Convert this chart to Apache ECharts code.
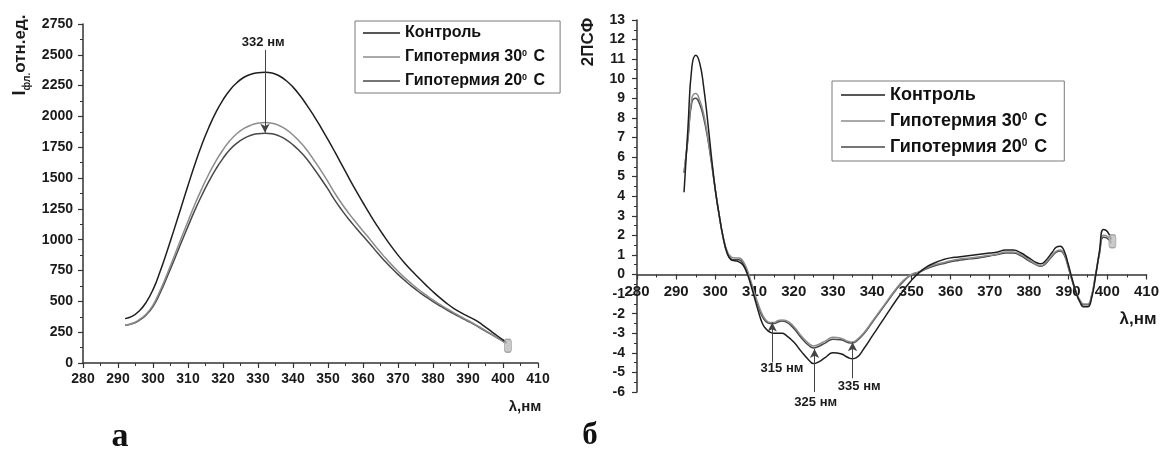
<!DOCTYPE html>
<html>
<head>
<meta charset="utf-8">
<script src="https://cdn.jsdelivr.net/npm/echarts@6/dist/echarts.min.js"></script>
<style>
  html, body { margin: 0; padding: 0; background: #fff; }
  #chart { width: 1162px; height: 450px; }
</style>
</head>
<body>
<div id="chart"></div>
<script>
// Series names shared by both panels
const seriesNames = ['Контроль', 'Гипотермия 30° С', 'Гипотермия 20° С'];

// Panel а: fluorescence intensity spectra (λ, нм)
const wlA = [292, 294, 296, 298, 300, 302, 304, 306, 308, 310, 312, 314, 316, 318, 320,
  322, 324, 326, 328, 330, 332, 334, 336, 338, 340, 342, 344, 346, 348, 350, 352, 354,
  356, 358, 360, 362, 364, 366, 368, 370, 372, 374, 376, 378, 380, 382, 384, 386, 388,
  390, 392, 394, 396, 398, 400, 401];
const controlA = [360, 378, 420, 490, 595, 740, 905, 1080, 1260, 1440, 1615, 1775, 1915,
  2035, 2135, 2215, 2275, 2318, 2343, 2355, 2358, 2352, 2330, 2292, 2238, 2170, 2090,
  2003, 1910, 1812, 1710, 1605, 1500, 1398, 1300, 1205, 1115, 1030, 950, 875, 808, 746,
  688, 632, 578, 528, 482, 442, 408, 378, 350, 312, 270, 228, 188, 170];
const hypo30A = [306, 320, 350, 395, 470, 585, 720, 862, 1008, 1150, 1290, 1418, 1535,
  1640, 1730, 1805, 1862, 1903, 1930, 1945, 1950, 1945, 1927, 1895, 1850, 1793, 1726,
  1645, 1560, 1470, 1375, 1290, 1212, 1140, 1070, 1003, 932, 865, 802, 744, 690, 640,
  594, 552, 512, 475, 440, 406, 375, 345, 314, 280, 246, 212, 177, 160];
const hypo20A = [306, 318, 345, 388, 458, 567, 696, 832, 972, 1108, 1242, 1364, 1475,
  1575, 1660, 1731, 1784, 1822, 1847, 1860, 1864, 1859, 1842, 1812, 1770, 1716, 1653,
  1576, 1495, 1410, 1319, 1238, 1164, 1096, 1030, 966, 898, 834, 774, 719, 668, 620,
  576, 536, 498, 463, 430, 398, 368, 339, 309, 276, 243, 210, 176, 160];
const endMarkA = [[401.4, 140]];

// Panel б: second-derivative spectra (2ПСФ)
const wlB = [292, 293, 294, 295, 296, 297, 298, 299, 300, 301, 302, 303, 304, 305, 306,
  307, 308, 309, 310, 311, 312, 313, 314, 315, 316, 317, 318, 320, 322, 324, 325, 326,
  328, 330, 332, 334, 335, 336, 338, 340, 342, 344, 346, 348, 350, 352, 354, 356, 358,
  360, 362, 364, 366, 368, 370, 372, 374, 376, 378, 380, 382, 383, 384, 386, 387, 388,
  389, 390, 391, 392, 393, 394, 395, 396, 397, 398, 399, 400, 401];
const controlB = [4.2, 7.5, 10.6, 11.2, 10.8, 9.6, 7.9, 6.0, 4.3, 3.0, 1.9, 1.1, 0.75,
  0.7, 0.65, 0.5, 0.1, -0.5, -1.2, -1.9, -2.5, -2.8, -2.95, -3.0, -3.0, -3.0, -3.1,
  -3.45, -3.95, -4.4, -4.55, -4.5, -4.25, -4.0, -4.05, -4.25, -4.3, -4.25, -3.75, -3.15,
  -2.55, -1.95, -1.35, -0.8, -0.3, 0.1, 0.4, 0.6, 0.75, 0.85, 0.9, 0.95, 1.0, 1.05, 1.1,
  1.15, 1.25, 1.25, 1.1, 0.85, 0.6, 0.55, 0.65, 1.15, 1.4, 1.45, 1.2, 0.55, -0.2, -0.9,
  -1.4, -1.65, -1.65, -1.2, -0.1, 1.2, 2.3, 2.2, 1.8];
const hypo30B = [5.2, 7.0, 9.0, 9.25, 8.9, 8.2, 7.1, 5.8, 4.3, 3.0, 1.9, 1.2, 0.9, 0.85,
  0.85, 0.7, 0.3, -0.3, -0.95, -1.55, -2.05, -2.35, -2.45, -2.45, -2.35, -2.32, -2.35,
  -2.65, -3.15, -3.55, -3.65, -3.6, -3.4, -3.2, -3.25, -3.42, -3.45, -3.35, -2.95, -2.4,
  -1.85, -1.3, -0.75, -0.3, 0.0, 0.15, 0.35, 0.5, 0.6, 0.7, 0.78, 0.83, 0.87, 0.92, 0.98,
  1.05, 1.15, 1.15, 1.0, 0.75, 0.5, 0.45, 0.55, 1.0, 1.2, 1.25, 1.05, 0.45, -0.25, -0.85,
  -1.3, -1.5, -1.5, -1.05, 0.0, 1.1, 2.0, 1.95, 1.75];
const hypo20B = [5.2, 6.9, 8.8, 9.0, 8.7, 8.0, 7.0, 5.7, 4.3, 3.0, 1.85, 1.1, 0.8, 0.75,
  0.75, 0.6, 0.2, -0.4, -1.05, -1.65, -2.15, -2.42, -2.5, -2.5, -2.42, -2.38, -2.42,
  -2.75, -3.25, -3.65, -3.75, -3.7, -3.5, -3.3, -3.33, -3.48, -3.5, -3.4, -3.0, -2.45,
  -1.9, -1.35, -0.8, -0.35, -0.02, 0.12, 0.3, 0.45, 0.55, 0.65, 0.72, 0.78, 0.82, 0.88,
  0.95, 1.02, 1.1, 1.1, 0.95, 0.7, 0.48, 0.42, 0.5, 0.95, 1.15, 1.2, 1.0, 0.4, -0.3, -0.9,
  -1.35, -1.55, -1.55, -1.1, -0.05, 1.05, 1.9, 1.85, 1.6];
const endMarkB = [[401.3, 1.7]];

// Axis ranges
const wlMin = 280, wlMax = 410, wlStep = 10;
const intMin = 0, intMax = 2750, intStep = 250;
const derMin = -6, derMax = 13, derStep = 1;

// Arrows [λ, from, to] and their captions [λ, value, text]
const arrowsA = [[332, 2540, 1868]];
const captionsA = [[331.5, 2604, '332 нм']];
const arrowsB = [[314.5, -4.49, -2.45], [325.3, -6, -3.8], [335.0, -5.3, -3.46]];
const captionsB = [[317.0, -4.8, '315 нм'], [325.6, -6.52, '325 нм'], [336.7, -5.72, '335 нм']];

const lineColors = ['#1e1e1e', '#8c8c8c', '#484848'];
const axisColor = '#333';
const textColor = '#1a1a1a';
const fontFamily = '"Liberation Sans", Arial, sans-serif';

const pairs = (xs, ys) => xs.map((x, i) => [x, ys[i]]);
const plain = v => String(v);

function xAxisCfg(grid, fontSize, margin) {
  return {
    type: 'value', gridIndex: grid, min: wlMin, max: wlMax, interval: wlStep,
    axisLine: { onZero: false, lineStyle: { color: axisColor, width: 1.5 } },
    axisTick: { length: 5, lineStyle: { color: axisColor, width: 1.2 } },
    minorTick: { show: true, splitNumber: 2, length: 3, lineStyle: { color: axisColor, width: 1 } },
    splitLine: { show: false },
    axisLabel: { fontSize: fontSize, fontWeight: 'bold', color: textColor, fontFamily: fontFamily, margin: margin, formatter: plain }
  };
}
function yAxisCfg(grid, min, max, step, fontSize, margin) {
  return {
    type: 'value', gridIndex: grid, min: min, max: max, interval: step,
    axisLine: { show: true, onZero: false, lineStyle: { color: axisColor, width: 1.5 } },
    axisTick: { show: true, length: 5, lineStyle: { color: axisColor, width: 1.2 } },
    minorTick: { show: true, splitNumber: 2, length: 3, lineStyle: { color: axisColor, width: 1 } },
    splitLine: { show: false },
    axisLabel: { fontSize: fontSize, fontWeight: 'bold', color: textColor, fontFamily: fontFamily, margin: margin, formatter: plain }
  };
}

function curve(name, idx, grid, xs, ys) {
  return {
    type: 'line', name: name, xAxisIndex: grid, yAxisIndex: grid,
    data: pairs(xs, ys), smooth: true, symbol: 'none',
    lineStyle: { color: lineColors[idx], width: 1.5 },
    itemStyle: { color: lineColors[idx] },
    emphasis: { disabled: true }, z: 3 - idx
  };
}

function endMarker(grid, pts) {
  return {
    type: 'scatter', name: 'end', xAxisIndex: grid, yAxisIndex: grid, data: pts,
    symbol: 'roundRect', symbolSize: [7, 13],
    itemStyle: { color: '#bdbdbd', borderColor: '#999', borderWidth: 1 },
    silent: true, z: 5
  };
}

// Arrows drawn in data coordinates
function arrows(grid, list) {
  return {
    type: 'line', name: 'arrows', xAxisIndex: grid, yAxisIndex: grid, data: [],
    silent: true,
    markLine: {
      silent: true, symbol: ['none', 'arrow'], symbolSize: [7, 9], precision: 3,
      lineStyle: { type: 'solid', color: '#444', width: 1 },
      itemStyle: { color: '#111' },
      label: { show: false },
      data: list.map(a => [{ coord: [a[0], a[1]] }, { coord: [a[0], a[2]] }])
    }
  };
}

function legendText(name) {
  return name.replace(/(\d+)° С/, '$1{s|0} С');
}
function legendCfg(left, top, itemWidth, fontSize, gap, padding) {
  return {
    data: seriesNames, orient: 'vertical', left: left, top: top,
    itemWidth: itemWidth, itemHeight: 14, itemGap: gap, padding: padding,
    borderColor: '#7a7a7a', borderWidth: 1, backgroundColor: '#fff',
    selectedMode: false, icon: 'path://M0,6 L40,6 L40,7.5 L0,7.5 Z',
    formatter: legendText,
    textStyle: {
      fontSize: fontSize, fontWeight: 'bold', color: '#111', fontFamily: fontFamily,
      rich: { s: { fontSize: Math.round(fontSize * 0.55), fontWeight: 'bold', color: '#111', fontFamily: fontFamily, verticalAlign: 'top', padding: [0, 2, 0, 0] } }
    }
  };
}

const option = {
  animation: false,
  backgroundColor: '#fff',
  grid: [
    { left: 83, top: 24, width: 455, height: 339 },
    { left: 637, top: 20, width: 511, height: 372 }
  ],
  xAxis: [xAxisCfg(0, 14, 9), xAxisCfg(1, 15, 10)],
  yAxis: [yAxisCfg(0, intMin, intMax, intStep, 14, 10), yAxisCfg(1, derMin, derMax, derStep, 14, 12)],
  legend: [
    legendCfg(355, 21, 37, 16, 8, [4, 15, 4, 8]),
    legendCfg(832, 81, 44, 18, 8, [5, 17, 5, 9])
  ],
  series: [
    curve(seriesNames[0], 0, 0, wlA, controlA),
    curve(seriesNames[1], 1, 0, wlA, hypo30A),
    curve(seriesNames[2], 2, 0, wlA, hypo20A),
    endMarker(0, endMarkA),
    arrows(0, arrowsA),
    curve(seriesNames[0], 0, 1, wlB, controlB),
    curve(seriesNames[1], 1, 1, wlB, hypo30B),
    curve(seriesNames[2], 2, 1, wlB, hypo20B),
    endMarker(1, endMarkB),
    arrows(1, arrowsB)
  ],
  graphic: [
    {
      id: 'ytitleA', type: 'text', x: 20, y: 55, rotation: Math.PI / 2,
      style: {
        text: '{a|I}{b|фл.}{c|отн.ед.}', align: 'center', verticalAlign: 'middle',
        rich: {
          a: { fontSize: 18, fontWeight: 'bold', fontFamily: fontFamily, fill: textColor, lineHeight: 24 },
          b: { fontSize: 10, fontWeight: 'bold', fontFamily: fontFamily, fill: textColor, verticalAlign: 'bottom', lineHeight: 24 },
          c: { fontSize: 17, fontWeight: 'bold', fontFamily: fontFamily, fill: textColor, lineHeight: 24 }
        }
      }
    },
    {
      id: 'ytitleB', type: 'text', x: 588, y: 42, rotation: Math.PI / 2,
      style: { text: '2ПСФ', align: 'center', verticalAlign: 'middle', fontSize: 17, fontWeight: 'bold', fontFamily: fontFamily, fill: textColor }
    },
    {
      id: 'xtitleA', type: 'text', x: 525, y: 407,
      style: { text: 'λ,нм', align: 'center', verticalAlign: 'middle', fontSize: 15, fontWeight: 'bold', fontFamily: fontFamily, fill: textColor }
    },
    {
      id: 'xtitleB', type: 'text', x: 1138, y: 319,
      style: { text: 'λ,нм', align: 'center', verticalAlign: 'middle', fontSize: 17, fontWeight: 'bold', fontFamily: fontFamily, fill: textColor }
    },
    {
      id: 'panelA', type: 'text', x: 120, y: 437,
      style: { text: 'а', align: 'center', verticalAlign: 'middle', fontSize: 34, fontWeight: 'bold', fontFamily: '"Liberation Serif", "Times New Roman", serif', fill: '#111' }
    },
    {
      id: 'panelB', type: 'text', x: 590, y: 436,
      style: { text: 'б', align: 'center', verticalAlign: 'middle', fontSize: 31, fontWeight: 'bold', fontFamily: '"Liberation Serif", "Times New Roman", serif', fill: '#111' }
    }
  ]
};

const chart = echarts.init(document.getElementById('chart'), null, { renderer: 'canvas' });
chart.setOption(option);

// The λ axis of panel б runs along the zero level of 2ПСФ
const zeroY = chart.convertToPixel({ yAxisIndex: 1 }, 0);
const bottomY = chart.convertToPixel({ yAxisIndex: 1 }, derMin);

// Captions placed through each panel's own scales
const captions = [];
[[0, captionsA], [1, captionsB]].forEach(([grid, list]) => {
  list.forEach((c, i) => {
    const p = chart.convertToPixel({ gridIndex: grid }, [c[0], c[1]]);
    captions.push({
      id: 'cap' + grid + '_' + i, type: 'text', x: p[0], y: p[1], z: 10,
      style: { text: c[2], align: 'center', verticalAlign: 'middle', fontSize: 13, fontWeight: 'bold', fontFamily: fontFamily, fill: textColor }
    });
  });
});
chart.setOption({
  xAxis: [{}, { offset: zeroY - bottomY }],
  graphic: captions
});
</script>
</body>
</html>
